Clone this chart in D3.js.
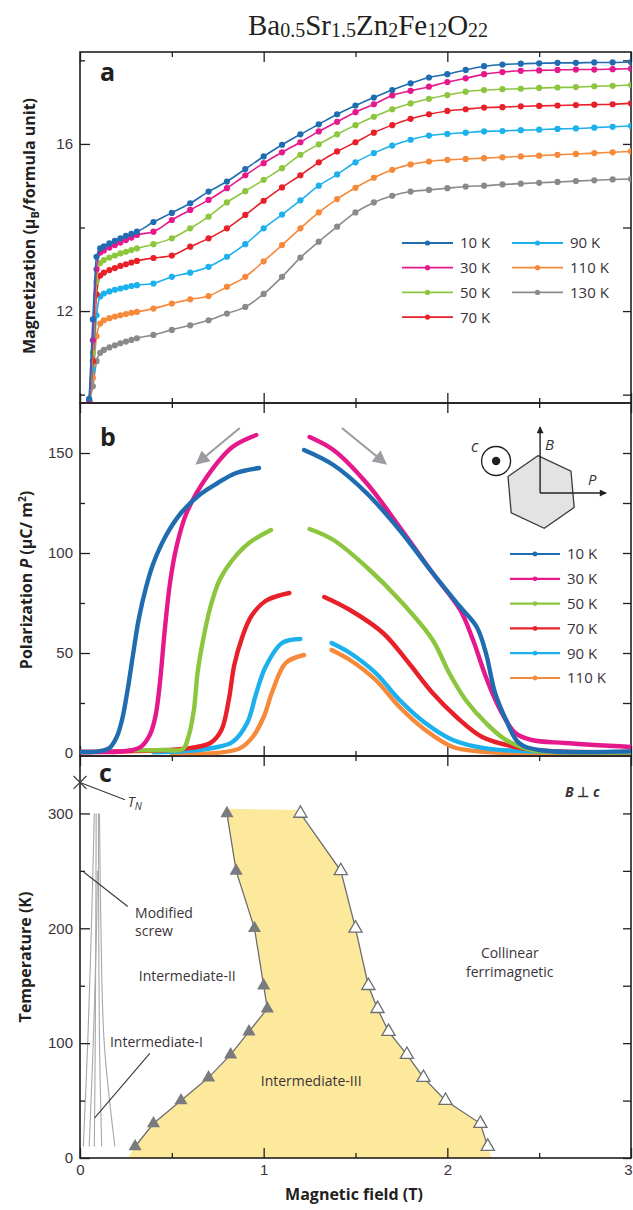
<!DOCTYPE html>
<html>
<head>
<meta charset="utf-8">
<style>
  body { margin: 0; background: #fff; }
  svg { display: block; font-family: "Open Sans", "Noto Sans", sans-serif; }
  .tick text { font-size: 15px; fill: #3b3339; }
  .tick line { stroke: #231f20; stroke-width: 1.3; }
  .frame { fill: none; stroke: #231f20; stroke-width: 1.6; }
  .axis-title { font-size: 16px; font-weight: 700; fill: #231f20; }
  .panel-label { font-size: 25px; font-weight: 700; fill: #231f20; }
  .legend text { font-size: 15px; fill: #3b3339; }
  .note { font-size: 14px; fill: #3b3339; }
</style>
<script src="https://cdn.jsdelivr.net/npm/d3@7"></script>
</head>
<body>
<script>
const width = 633, height = 1210;
const left = 80, right = 631;

// temperatures and colours
const temps = ['10 K', '30 K', '50 K', '70 K', '90 K', '110 K', '130 K'];
const palette = ['#1f6cb1', '#e5198b', '#8cc63f', '#e8202a', '#1cb1ec', '#f6893a', '#8a8a8a'];

// ---- panel a : magnetization vs field ----
const fieldA = [0.05, 0.07, 0.09, 0.11, 0.13, 0.16, 0.19, 0.22, 0.25, 0.28, 0.31,
    0.4, 0.5, 0.6, 0.7, 0.8, 0.9, 1.0, 1.1, 1.2, 1.3, 1.4, 1.5, 1.6, 1.7, 1.8, 1.9,
    2.0, 2.1, 2.2, 2.3, 2.4, 2.5, 2.6, 2.7, 2.8, 2.9, 3.0];
const mag10 = [9.9, 11.8, 13.3, 13.5, 13.55, 13.62, 13.68, 13.74, 13.8, 13.85, 13.9,
    14.13, 14.35, 14.58, 14.86, 15.1, 15.4, 15.7, 15.98, 16.23, 16.47, 16.71, 16.92, 17.11, 17.29, 17.45, 17.59,
    17.67, 17.77, 17.86, 17.9, 17.92, 17.93, 17.94, 17.94, 17.95, 17.95, 17.96];
const mag30 = [9.85, 11.3, 13.0, 13.4, 13.45, 13.52, 13.58, 13.64, 13.7, 13.76, 13.82,
    13.9, 14.18, 14.42, 14.66, 14.94, 15.25, 15.54, 15.8, 16.04, 16.3, 16.53, 16.76, 16.95, 17.16, 17.27, 17.37,
    17.48, 17.57, 17.67, 17.72, 17.75, 17.76, 17.77, 17.78, 17.78, 17.79, 17.8];
const mag50 = [9.85, 11.0, 12.7, 13.15, 13.22, 13.28, 13.33, 13.38, 13.42, 13.46, 13.5,
    13.6, 13.74, 13.98, 14.26, 14.6, 14.87, 15.14, 15.42, 15.74, 15.99, 16.23, 16.45, 16.65, 16.83, 16.97, 17.08,
    17.17, 17.25, 17.29, 17.31, 17.32, 17.34, 17.35, 17.36, 17.38, 17.39, 17.41];
const mag70 = [9.85, 10.8, 12.4, 12.85, 12.92, 12.98, 13.03, 13.08, 13.12, 13.16, 13.2,
    13.27, 13.33, 13.54, 13.74, 13.98, 14.3, 14.64, 14.96, 15.25, 15.56, 15.82, 16.04, 16.27, 16.45, 16.6, 16.71,
    16.79, 16.83, 16.87, 16.88, 16.9, 16.91, 16.92, 16.93, 16.94, 16.95, 16.97];
const mag90 = [9.85, 10.6, 11.9, 12.35, 12.42, 12.47, 12.51, 12.54, 12.57, 12.6, 12.62,
    12.66, 12.82, 12.92, 13.06, 13.3, 13.6, 13.98, 14.31, 14.65, 15.0, 15.27, 15.56, 15.78, 15.96, 16.1, 16.2,
    16.24, 16.27, 16.3, 16.31, 16.33, 16.34, 16.36, 16.37, 16.39, 16.41, 16.43];
const mag110 = [9.85, 10.4, 11.4, 11.7, 11.78, 11.83, 11.87, 11.9, 11.93, 11.96, 11.98,
    12.06, 12.18, 12.28, 12.36, 12.58, 12.82, 13.19, 13.58, 13.98, 14.36, 14.68, 14.95, 15.19, 15.38, 15.51, 15.58,
    15.62, 15.64, 15.66, 15.68, 15.7, 15.72, 15.74, 15.76, 15.78, 15.8, 15.82];
const mag130 = [9.85, 10.2, 10.8, 11.0, 11.07, 11.13, 11.18, 11.23, 11.27, 11.31, 11.35,
    11.43, 11.55, 11.66, 11.78, 11.94, 12.1, 12.41, 12.82, 13.28, 13.66, 14.02, 14.36, 14.6, 14.76, 14.86, 14.9,
    14.94, 14.98, 15.0, 15.03, 15.05, 15.07, 15.09, 15.11, 15.13, 15.15, 15.16];
const magSeries = [mag10, mag30, mag50, mag70, mag90, mag110, mag130];

// ---- panel b : polarization, [field, P] ; low branch (field going down), high branch (field going up)
const polLow10 = [[0, 0.5], [0.1, 0.8], [0.16, 2.5], [0.2, 8], [0.23, 17], [0.26, 32], [0.29, 50], [0.32, 67], [0.36, 83], [0.4, 95], [0.47, 109], [0.55, 120], [0.65, 129], [0.75, 135], [0.85, 140], [0.975, 142.5]];
const polLow30 = [[0, 0.5], [0.25, 1], [0.33, 3], [0.38, 9], [0.41, 18], [0.435, 35], [0.46, 60], [0.49, 85], [0.525, 103], [0.58, 120], [0.69, 138], [0.83, 153], [0.96, 159]];
const polLow50 = [[0.3, 1.3], [0.45, 1.5], [0.56, 2], [0.59, 8], [0.62, 21.5], [0.64, 40], [0.67, 56.5], [0.71, 73], [0.76, 86.5], [0.83, 96.5], [0.92, 105], [1.04, 111.5]];
const polLow70 = [[0, 0.5], [0.29, 1], [0.56, 2], [0.71, 5], [0.77, 11.5], [0.81, 26.5], [0.84, 44], [0.88, 57], [0.93, 68], [1.01, 76], [1.14, 80]];
const polLow90 = [[0.4, 0.3], [0.57, 1], [0.72, 2.5], [0.83, 5.5], [0.91, 15], [0.96, 30], [1.01, 43], [1.1, 55], [1.2, 57]];
const polLow110 = [[0.5, -0.5], [0.74, 0], [0.87, 2.3], [0.94, 8], [1.0, 18], [1.05, 31.5], [1.12, 45], [1.22, 49]];
const polHigh10 = [[1.22, 151.5], [1.38, 144], [1.56, 130], [1.74, 111.5], [1.92, 90], [2.07, 73], [2.16, 63], [2.21, 50], [2.26, 30], [2.32, 16.5], [2.39, 5], [2.5, 1.5], [3.0, 0.8]];
const polHigh30 = [[1.25, 158], [1.38, 151.5], [1.56, 135], [1.74, 113], [1.92, 90], [2.07, 71.5], [2.14, 56.5], [2.21, 38], [2.28, 23], [2.37, 10], [2.46, 6.5], [2.64, 5], [3.0, 3]];
const polHigh50 = [[1.25, 112], [1.38, 106.5], [1.56, 93], [1.74, 76.5], [1.92, 56.5], [2.01, 40], [2.1, 26.5], [2.21, 15], [2.32, 6.5], [2.46, 1.5], [3.0, 0.5]];
const polHigh70 = [[1.33, 78], [1.47, 71.5], [1.65, 60], [1.79, 45], [1.92, 30], [2.05, 18], [2.19, 8], [2.37, 3], [2.55, 1], [3.0, 0.5]];
const polHigh90 = [[1.37, 55], [1.47, 50], [1.61, 40], [1.74, 26.5], [1.88, 15], [2.03, 6.5], [2.21, 2.3], [2.46, 0.8], [3.0, 0.3]];
const polHigh110 = [[1.37, 51.5], [1.47, 46.5], [1.61, 36.5], [1.74, 23], [1.88, 11.5], [2.03, 3], [2.21, 0.5], [2.46, 0], [3.0, 0]];
const polLow = [polLow10, polLow30, polLow50, polLow70, polLow90, polLow110];
const polHigh = [polHigh10, polHigh30, polHigh50, polHigh70, polHigh90, polHigh110];

// ---- panel c : phase diagram ----
const transTemps = [10, 30, 50, 70, 90, 110, 130, 150, 200, 250, 300];
const lowerField = [0.3, 0.4, 0.55, 0.7, 0.82, 0.92, 1.02, 1.0, 0.95, 0.85, 0.8];
const upperField = [2.22, 2.18, 1.99, 1.87, 1.78, 1.68, 1.62, 1.57, 1.5, 1.42, 1.2];
const fillEnds = [0.26, 2.24];           // yellow region meets T = 0
const fillTop = 304;
const screwLines = [
    [[0.078, 300], [0.062, 200], [0.042, 100], [0.018, 10]],
    [[0.088, 300], [0.086, 200], [0.083, 100], [0.078, 10]],
    [[0.1, 300], [0.102, 200], [0.106, 100], [0.118, 10]],
    [[0.106, 300], [0.114, 200], [0.132, 100], [0.19, 10]],
    [[0.095, 250], [0.09, 200], [0.072, 100], [0.05, 10]]
];
const tN = 327;

const fieldMajor = [0, 1, 2, 3], fieldMinor = [0.5, 1.5, 2.5];

const svg = d3.select('body').append('svg').attr('width', width).attr('height', height);
const color = d3.scaleOrdinal().domain(temps).range(palette);

const x = d3.scaleLinear().domain([0, 3]).range([left, right]);
const yA = d3.scaleLinear().domain([9.8, 18.2]).range([403, 52]);
const yB = d3.scaleLinear().domain([-1.5, 175]).range([756, 403]);
const yC = d3.scaleLinear().domain([0, 350]).range([1158, 756]);

const defs = svg.append('defs');
function clip(id, y) {
    defs.append('clipPath').attr('id', id).append('rect')
        .attr('x', left).attr('y', y.range()[1])
        .attr('width', right - left).attr('height', y.range()[0] - y.range()[1]);
}
clip('clipA', yA); clip('clipB', yB); clip('clipC', yC);

defs.append('marker').attr('id', 'grayHead').attr('viewBox', '0 0 10 10')
    .attr('refX', 8).attr('refY', 5).attr('markerWidth', 15).attr('markerHeight', 14)
    .attr('markerUnits', 'userSpaceOnUse').attr('orient', 'auto')
    .append('path').attr('d', 'M0,0L10,5L0,10z').attr('fill', '#9b9da0');
defs.append('marker').attr('id', 'blackHead').attr('viewBox', '0 0 10 10')
    .attr('refX', 9).attr('refY', 5).attr('markerWidth', 9).attr('markerHeight', 7)
    .attr('markerUnits', 'userSpaceOnUse').attr('orient', 'auto')
    .append('path').attr('d', 'M0,0L10,5L0,10z').attr('fill', '#231f20');

// axes + frame for a panel
function axes(y, yMajor, yMinor, showX) {
    const [yb, yt] = y.range();
    const g = svg.append('g');
    const noText = () => '';
    const strip = s => s.select('.domain').remove();
    g.append('g').attr('transform', `translate(0,${yb})`)
        .call(d3.axisBottom(x).tickValues(fieldMajor).tickSize(-10).tickPadding(6).tickFormat(showX ? d3.format('d') : noText)).call(strip)
        .selectAll('.tick text').attr('dx', d => d === 3 ? -3 : 0);
    g.append('g').attr('transform', `translate(0,${yb})`)
        .call(d3.axisBottom(x).tickValues(fieldMinor).tickSize(-5).tickFormat(noText)).call(strip);
    g.append('g').attr('transform', `translate(0,${yt})`)
        .call(d3.axisTop(x).tickValues(fieldMajor).tickSize(-10).tickFormat(noText)).call(strip);
    g.append('g').attr('transform', `translate(0,${yt})`)
        .call(d3.axisTop(x).tickValues(fieldMinor).tickSize(-5).tickFormat(noText)).call(strip);
    g.append('g').attr('transform', `translate(${left},0)`)
        .call(d3.axisLeft(y).tickValues(yMajor).tickSize(-10).tickPadding(7)).call(strip);
    g.append('g').attr('transform', `translate(${left},0)`)
        .call(d3.axisLeft(y).tickValues(yMinor).tickSize(-5).tickFormat(noText)).call(strip);
    g.append('g').attr('transform', `translate(${right},0)`)
        .call(d3.axisRight(y).tickValues(yMajor).tickSize(-8).tickFormat(noText)).call(strip);
    g.append('g').attr('transform', `translate(${right},0)`)
        .call(d3.axisRight(y).tickValues(yMinor).tickSize(-8).tickFormat(noText)).call(strip);
    g.append('rect').attr('class', 'frame')
        .attr('x', left).attr('y', yt).attr('width', right - left).attr('height', yb - yt);
}

// title
const title = svg.append('text').attr('x', 368).attr('y', 35).attr('text-anchor', 'middle')
    .style('font-family', '"Liberation Serif", "Times New Roman", serif')
    .style('font-size', '29px').attr('fill', '#231f20');
[['Ba', 0], ['0.5', 1], ['Sr', 0], ['1.5', 1], ['Zn', 0], ['2', 1], ['Fe', 0], ['12', 1], ['O', 0], ['22', 1]]
    .forEach(([t, sub], i) => {
        title.append('tspan').text(t)
            .style('font-size', sub ? '20px' : null)
            .attr('dy', i === 0 ? 0 : (sub ? 2 : -2));
    });

// ================= panel a =================
axes(yA, [12, 16], [10, 14, 18], false);
const lineA = d3.line().x(d => x(d[0])).y(d => yA(d[1])).curve(d3.curveMonotoneX);
const gA = svg.append('g').attr('clip-path', 'url(#clipA)');
temps.slice().reverse().forEach(t => {
    const vals = magSeries[temps.indexOf(t)];
    const pts = fieldA.map((f, i) => [f, vals[i]]);
    gA.append('path').datum(pts).attr('d', lineA)
        .attr('fill', 'none').attr('stroke', color(t)).attr('stroke-width', 1.6);
    gA.selectAll(null).data(pts).join('circle')
        .attr('cx', d => x(d[0])).attr('cy', d => yA(d[1])).attr('r', 3.1)
        .attr('fill', color(t));
});

svg.append('text').attr('class', 'panel-label').attr('x', 100).attr('y', 81).text('a');

const tA = svg.append('text').attr('class', 'axis-title')
    .attr('transform', 'translate(35,226) rotate(-90)').attr('text-anchor', 'middle');
tA.append('tspan').text('Magnetization (μ');
tA.append('tspan').text('B').style('font-size', '11px').attr('dy', 4);
tA.append('tspan').text('/formula unit)').attr('dy', -4);

// legend a
const legA = svg.append('g').attr('class', 'legend');
temps.forEach((t, i) => {
    const col = i < 4 ? 0 : 1, row = i < 4 ? i : i - 4;
    const g = legA.append('g').attr('transform', `translate(${402 + col * 110},${243 + row * 24.7})`);
    g.append('line').attr('x1', 0).attr('x2', 51).attr('stroke', color(t)).attr('stroke-width', 1.8);
    g.append('circle').attr('cx', 25.5).attr('r', 2.6).attr('fill', color(t));
    g.append('text').attr('x', 58).attr('dy', '0.36em').text(t);
});

// ================= panel b =================
axes(yB, [0, 50, 100, 150], [25, 75, 125], false);
const lineB = d3.line().x(d => x(d[0])).y(d => yB(d[1])).curve(d3.curveCatmullRom.alpha(0.5));
const gB = svg.append('g').attr('clip-path', 'url(#clipB)');
temps.slice(0, 6).reverse().forEach(t => {
    const i = temps.indexOf(t);
    [polLow[i], polHigh[i]].forEach(branch => {
        gB.append('path').datum(branch).attr('d', lineB)
            .attr('fill', 'none').attr('stroke', color(t))
            .attr('stroke-width', 4.4).attr('stroke-linecap', 'round');
    });
});

// sweep arrows
[[[0.87, 162.5], [0.64, 145]], [[1.426, 162.5], [1.66, 145]]].forEach(([a, b]) => {
    svg.append('line').attr('x1', x(a[0])).attr('y1', yB(a[1])).attr('x2', x(b[0])).attr('y2', yB(b[1]))
        .attr('stroke', '#9b9da0').attr('stroke-width', 2.2).attr('marker-end', 'url(#grayHead)');
});

// crystal inset
const ins = svg.append('g').attr('transform', `translate(${x(2.505)},${yB(130)})`);
const hex = d3.range(6).map(k => {
    const a = (-95 + 60 * k) * Math.PI / 180;
    return [36.5 * Math.cos(a) + 1, 36.5 * Math.sin(a) - 1];
});
ins.append('path').attr('d', d3.line()(hex) + 'Z')
    .attr('fill', '#e3e3e3').attr('stroke', '#3a3a3a').attr('stroke-width', 1.3);
ins.append('line').attr('x1', 0).attr('y1', 0).attr('x2', 0).attr('y2', -66)
    .attr('stroke', '#231f20').attr('stroke-width', 1.4).attr('marker-end', 'url(#blackHead)');
ins.append('line').attr('x1', 0).attr('y1', 0).attr('x2', 66).attr('y2', 0)
    .attr('stroke', '#231f20').attr('stroke-width', 1.4).attr('marker-end', 'url(#blackHead)');
ins.append('circle').attr('cx', -44).attr('cy', -32).attr('r', 14.5)
    .attr('fill', 'none').attr('stroke', '#231f20').attr('stroke-width', 1.3);
ins.append('circle').attr('cx', -44).attr('cy', -32).attr('r', 4.2).attr('fill', '#231f20');
ins.append('text').attr('x', -69).attr('y', -41).text('c')
    .style('font-style', 'italic').style('font-size', '16px').attr('fill', '#3b3339');
ins.append('text').attr('x', 5).attr('y', -43).text('B')
    .style('font-style', 'italic').style('font-size', '15px').attr('fill', '#3b3339');
ins.append('text').attr('x', 48).attr('y', -8).text('P')
    .style('font-style', 'italic').style('font-size', '15px').attr('fill', '#3b3339');

// legend b
const legB = svg.append('g').attr('class', 'legend');
temps.slice(0, 6).forEach((t, i) => {
    const g = legB.append('g').attr('transform', `translate(510,${554 + i * 24.8})`);
    g.append('line').attr('x1', 0).attr('x2', 50).attr('stroke', color(t)).attr('stroke-width', 2.2);
    g.append('circle').attr('cx', 25).attr('r', 2.4).attr('fill', color(t));
    g.append('text').attr('x', 57).attr('dy', '0.36em').text(t);
});

svg.append('text').attr('class', 'panel-label').attr('x', 100).attr('y', 446).text('b');

const tB = svg.append('text').attr('class', 'axis-title')
    .attr('transform', 'translate(32,580) rotate(-90)').attr('text-anchor', 'middle');
tB.append('tspan').text('Polarization ');
tB.append('tspan').text('P').style('font-style', 'italic');
tB.append('tspan').text(' (μC/ m');
tB.append('tspan').text('2').style('font-size', '10px').attr('dy', -6);
tB.append('tspan').text(')').attr('dy', 6);

// ================= panel c =================
const gC = svg.append('g').attr('clip-path', 'url(#clipC)');
const lowerPts = transTemps.map((t, i) => [lowerField[i], t]);
const upperPts = transTemps.map((t, i) => [upperField[i], t]);
const topL = lowerPts[lowerPts.length - 1], topR = upperPts[upperPts.length - 1];
const region = [[fillEnds[0], 0], ...lowerPts, [topL[0], fillTop], [topR[0], fillTop - 1],
    ...upperPts.slice().reverse(), [fillEnds[1], 0]];
gC.append('path').attr('d', d3.line().x(d => x(d[0])).y(d => yC(d[1]))(region) + 'Z')
    .attr('fill', '#fde99c');

const lineC = d3.line().x(d => x(d[0])).y(d => yC(d[1]));
[lowerPts, upperPts].forEach(pts => {
    gC.append('path').datum(pts).attr('d', lineC)
        .attr('fill', 'none').attr('stroke', '#6d6e71').attr('stroke-width', 1.3);
});
const tri = d3.symbol(d3.symbolTriangle).size(75);
gC.selectAll('path.filled').data(lowerPts).join('path').attr('class', 'filled')
    .attr('transform', d => `translate(${x(d[0])},${yC(d[1])})`).attr('d', tri)
    .attr('fill', '#7a7b7e');
gC.selectAll('path.open').data(upperPts).join('path').attr('class', 'open')
    .attr('transform', d => `translate(${x(d[0])},${yC(d[1])})`).attr('d', tri)
    .attr('fill', '#fff').attr('stroke', '#6d6e71').attr('stroke-width', 1.3);

const screwLine = d3.line().x(d => x(d[0])).y(d => yC(d[1])).curve(d3.curveCatmullRom);
screwLines.forEach(pts => {
    gC.append('path').datum(pts).attr('d', screwLine)
        .attr('fill', 'none').attr('stroke', '#a5a7aa').attr('stroke-width', 1.1);
});

axes(yC, [0, 100, 200, 300], [50, 150, 250], true);

// T_N marker
svg.append('path').attr('transform', `translate(${x(0)},${yC(tN)})`)
    .attr('d', d3.symbol(d3.symbolTimes).size(110)())
    .attr('fill', 'none').attr('stroke', '#3a3a3a').attr('stroke-width', 1.2);
const leader = (a, b) => svg.append('line')
    .attr('x1', x(a[0])).attr('y1', yC(a[1])).attr('x2', x(b[0])).attr('y2', yC(b[1]))
    .attr('stroke', '#3a3a3a').attr('stroke-width', 1.1);
leader([0, tN], [0.245, 312]);
leader([0.02, 249], [0.26, 219]);
leader([0.38, 91], [0.08, 35]);

const tn = svg.append('text').attr('x', x(0.26)).attr('y', yC(306)).attr('class', 'note')
    .style('font-style', 'italic');
tn.append('tspan').text('T');
tn.append('tspan').text('N').style('font-size', '10px').attr('dy', 3);

const note = (txt, f, t, anchor) => svg.append('text').attr('class', 'note')
    .attr('x', x(f)).attr('y', yC(t)).attr('text-anchor', anchor || 'start').text(txt);
note('Modified', 0.3, 209);
note('screw', 0.3, 193);
note('Intermediate-II', 0.32, 154);
note('Intermediate-I', 0.163, 96.5);
note('Intermediate-III', 0.984, 62.5);
note('Collinear', 2.34, 174, 'middle');
note('ferrimagnetic', 2.34, 158, 'middle');

const bc = svg.append('text').attr('x', x(2.83)).attr('y', yC(314)).attr('text-anchor', 'end')
    .style('font-size', '14px').style('font-weight', 700).style('font-style', 'italic').attr('fill', '#3b3339');
bc.append('tspan').text('B');
bc.append('tspan').text(' ⊥ ').style('font-style', 'normal');
bc.append('tspan').text('c');

svg.append('text').attr('class', 'panel-label').attr('x', 99).attr('y', 782).text('c');

svg.append('text').attr('class', 'axis-title')
    .attr('transform', 'translate(31,957) rotate(-90)').attr('text-anchor', 'middle')
    .text('Temperature (K)');
svg.append('text').attr('class', 'axis-title')
    .attr('x', 354).attr('y', 1200).attr('text-anchor', 'middle')
    .text('Magnetic field (T)');
</script>
</body>
</html>
